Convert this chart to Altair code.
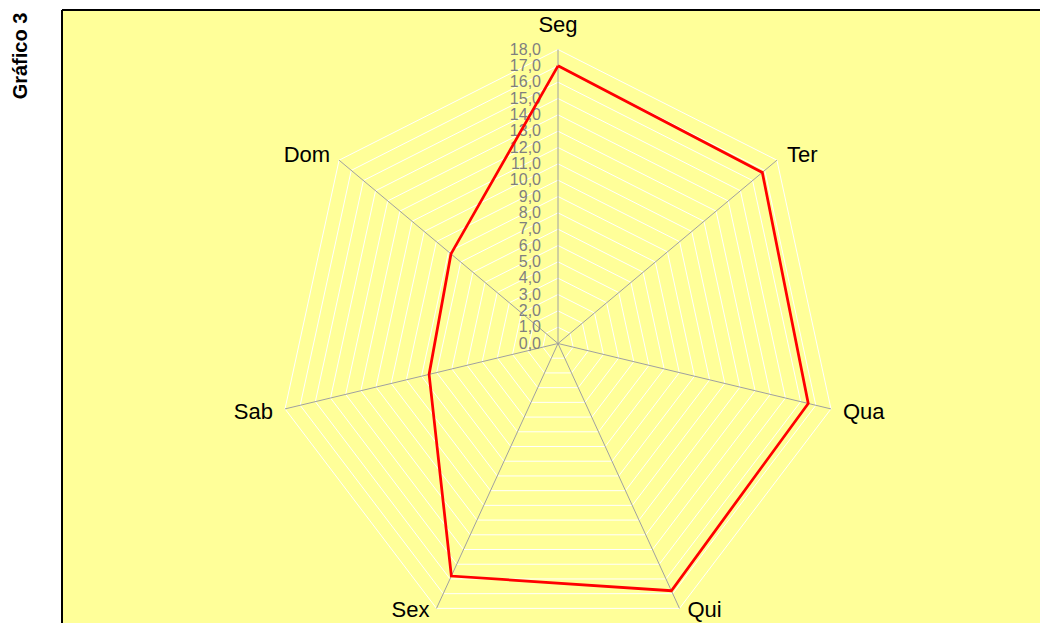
import altair as alt
import pandas as pd

# ---- data ----
categories = ["Seg", "Ter", "Qua", "Qui", "Sex", "Sab", "Dom"]
values = [17.0, 16.8, 16.5, 16.8, 15.8, 8.5, 8.8]
levels = list(range(0, 19))
title_text = "Gráfico 3"

# ---- layout (styles / geometry, not data) ----
N = len(categories)
W, H = 978, 613
CX, CY = 496, 333.5
UX, UY = 280 / 18, 294 / 18
xs = alt.Scale(domain=[-CX / UX, (W - CX) / UX], nice=False, zero=False)
ys = alt.Scale(domain=[-(H - CY) / UY, CY / UY], nice=False, zero=False)
ang = f"2*PI*datum.i/{N}"

label_style = {
    "Seg": dict(align="center", dx=0, dy=-18),
    "Ter": dict(align="left", dx=10, dy=2),
    "Qua": dict(align="left", dx=12, dy=10),
    "Qui": dict(align="left", dx=8, dy=9),
    "Sex": dict(align="right", dx=-7, dy=9),
    "Sab": dict(align="right", dx=-12, dy=10),
    "Dom": dict(align="right", dx=-9, dy=2),
}

series = pd.DataFrame({
    "i": list(range(N + 1)),
    "cat": categories + [categories[0]],
    "v": values + [values[0]],
})
rings = pd.DataFrame([{"level": L, "i": i} for L in levels[1:] for i in range(N + 1)])
spokes = pd.DataFrame({"i": list(range(N)), "cat": categories, "r": [levels[-1]] * N})
ticks = pd.DataFrame({"level": levels})

X = alt.X("px:Q", scale=xs, axis=None)
Y = alt.Y("py:Q", scale=ys, axis=None)

ring_layer = alt.Chart(rings).transform_calculate(
    px=f"datum.level*sin({ang})", py=f"datum.level*cos({ang})"
).mark_line(color="white", strokeWidth=1).encode(
    x=X, y=Y, detail="level:N", order="i:Q"
)

spoke_layer = alt.Chart(spokes).transform_calculate(
    x0="0", y0="0", px=f"datum.r*sin({ang})", py=f"datum.r*cos({ang})"
).mark_rule(color="#A0A0A0", strokeWidth=1).encode(
    x=alt.X("x0:Q", scale=xs, axis=None), y=alt.Y("y0:Q", scale=ys, axis=None),
    x2="px:Q", y2="py:Q"
)

tick_layer = alt.Chart(ticks).transform_calculate(
    px="0", py="datum.level",
    lab="replace(format(datum.level, '.1f'), '.', ',')"
).mark_text(
    align="right", baseline="middle", dx=-17, fontSize=16,
    color="#7F7F7F", font="Liberation Sans"
).encode(x=X, y=Y, text="lab:N")

series_layer = alt.Chart(series).transform_calculate(
    px=f"datum.v*sin({ang})", py=f"datum.v*cos({ang})"
).mark_line(color="#FF0000", strokeWidth=2.75).encode(
    x=X, y=Y, order="i:Q"
)

cat_layers = []
for c in categories:
    st = label_style[c]
    cat_layers.append(
        alt.Chart(spokes).transform_filter(f"datum.cat == '{c}'").transform_calculate(
            px=f"datum.r*sin({ang})", py=f"datum.r*cos({ang})"
        ).mark_text(
            align=st["align"], baseline="alphabetic", dx=st["dx"], dy=st["dy"],
            fontSize=22, color="black", font="Liberation Sans"
        ).encode(x=X, y=Y, text="cat:N")
    )

border_v = alt.Chart(ticks).mark_rule(color="black", strokeWidth=1.5).encode(
    x=alt.value(0), y=alt.value(0), y2=alt.value(H)
)
border_h = alt.Chart(ticks).mark_rule(color="black", strokeWidth=1.5).encode(
    x=alt.value(0), x2=alt.value(W), y=alt.value(0)
)

title_layer = alt.Chart(pd.DataFrame({"t": [title_text]})).mark_text(
    angle=270, align="center", baseline="middle", fontSize=20,
    fontWeight="bold", font="Liberation Sans", color="black"
).encode(x=alt.value(-41), y=alt.value(46), text="t:N")

chart = alt.layer(
    ring_layer, spoke_layer, tick_layer, series_layer, *cat_layers,
    border_v, border_h, title_layer
).properties(
    width=W, height=H,
    padding={"left": 54, "top": 2, "right": 0, "bottom": 0},
    autosize=alt.AutoSizeParams(type="none"),
).configure_view(fill="#FFFF99", stroke=None)

chart.save("out.html", embed_options={"renderer": "svg", "actions": False})
